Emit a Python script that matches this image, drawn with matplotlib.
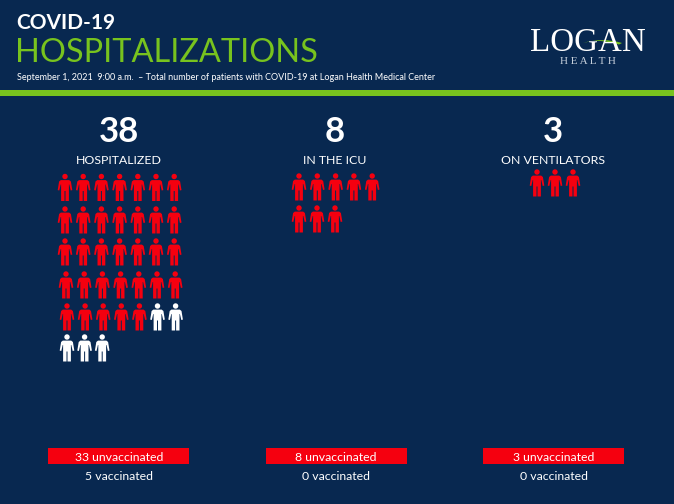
import matplotlib
matplotlib.use("Agg")
import matplotlib.pyplot as plt
from matplotlib.patches import Polygon, Circle, Rectangle, PathPatch
from matplotlib.path import Path

# Data
panel_labels = ["HOSPITALIZED", "IN THE ICU", "ON VENTILATORS"]
totals = [38, 8, 3]
unvaccinated = [33, 8, 3]
vaccinated = [5, 0, 0]
per_row = [7, 5, 3]

BG = "#082850"; GREEN = "#78c31e"; RED = "#f5000f"; WHITE = "#ffffff"
FONT = ["Lato", "DejaVu Sans"]

fig = plt.figure(figsize=(6.74, 5.04), dpi=100, facecolor=BG)
ax = fig.add_axes([0, 0, 1, 1])
ax.set_xlim(0, 674); ax.set_ylim(504, 0); ax.axis("off")


def person(cx, cy, color):
    ax.add_patch(Circle((cx, cy - 11.0), 2.7, fc=color, ec="none"))
    body = [(-4.2, -7.4), (4.2, -7.4), (5.9, -6.0), (7.3, 2.6), (5.7, 3.0), (4.3, -3.0),
            (3.9, -3.0), (3.9, 13.5), (0.5, 13.5), (0.5, 3.5), (-0.5, 3.5), (-0.5, 13.5),
            (-3.9, 13.5), (-3.9, -3.0), (-4.3, -3.0), (-5.7, 3.0), (-7.3, 2.6), (-5.9, -6.0)]
    ax.add_patch(Polygon([(cx + x, cy + y) for x, y in body], closed=True, fc=color, ec="none"))


# Layout of the icon rows (left edge, pitch, y) for each panel
rows_layout = [
    [(65, 18.2, 187.5), (65, 18.2, 220), (65, 18.2, 252), (66, 18.2, 285), (67, 18.1, 317), (67, 17.6, 348)],
    [(299, 18.3, 187), (299, 18.0, 219)],
    [(537, 18.0, 183)],
]
centers = [119, 335, 553]
number_y = [131.5, 131.5, 131.5]
label_y = [160.5, 160.5, 160.5]
bar_x = [48.3, 265.5, 483]
bar_w = 141
caption_x = [119, 336, 553.5]

for i, lab in enumerate(panel_labels):
    ax.text(centers[i], number_y[i], str(totals[i]), color=WHITE, fontsize=25, fontweight="bold",
            ha="center", va="center", family=FONT)
    ax.text(centers[i], label_y[i], lab, color=WHITE, fontsize=8.9,
            ha="center", va="center", family=FONT)
    n = 0
    for r, (x0, dx, y) in enumerate(rows_layout[i]):
        for c in range(per_row[i]):
            if n >= totals[i]:
                break
            color = RED if n < unvaccinated[i] else WHITE
            person(x0 + c * dx, y, color)
            n += 1
    ax.add_patch(Rectangle((bar_x[i], 448.3), bar_w, 16, fc=RED, ec="none"))
    ax.text(caption_x[i], 457.5, f"{unvaccinated[i]} unvaccinated", color=WHITE, fontsize=8.8,
            ha="center", va="center", family=FONT)
    ax.text(caption_x[i], 476, f"{vaccinated[i]} vaccinated", color=WHITE, fontsize=8.8,
            ha="center", va="center", family=FONT)

# Header
ax.text(16.5, 23, "COVID-19", color=WHITE, fontsize=15, fontweight="bold", ha="left", va="center", family=FONT)
ax.text(15, 53.5, "HOSPITALIZATIONS", color=GREEN, fontsize=23.4, ha="left", va="center", family=FONT)
ax.text(17, 78, "September 1, 2021  9:00 a.m.  – Total number of patients with COVID-19 at Logan Health Medical Center",
        color=WHITE, fontsize=6.45, ha="left", va="center", family=FONT)
ax.add_patch(Rectangle((0, 90), 674, 6, fc=GREEN, ec="none"))

# Logo
ax.text(587.5, 43, "LOGAN", color=WHITE, fontsize=23.8, ha="center", va="center", family="Liberation Serif")
ax.text(588, 62, "H E A L T H", color="#c9d2dd", fontsize=8, ha="center", va="center",
        family="Liberation Serif")
swoosh = Path([(583, 43), (602, 37), (622, 43), (619, 44.5), (603, 40), (592, 41), (583, 43)],
              [Path.MOVETO, Path.CURVE3, Path.CURVE3, Path.LINETO, Path.CURVE3, Path.CURVE3, Path.LINETO])
ax.add_patch(PathPatch(swoosh, fc=GREEN, ec="none"))

fig.savefig("out.png", dpi=100, facecolor=BG)
